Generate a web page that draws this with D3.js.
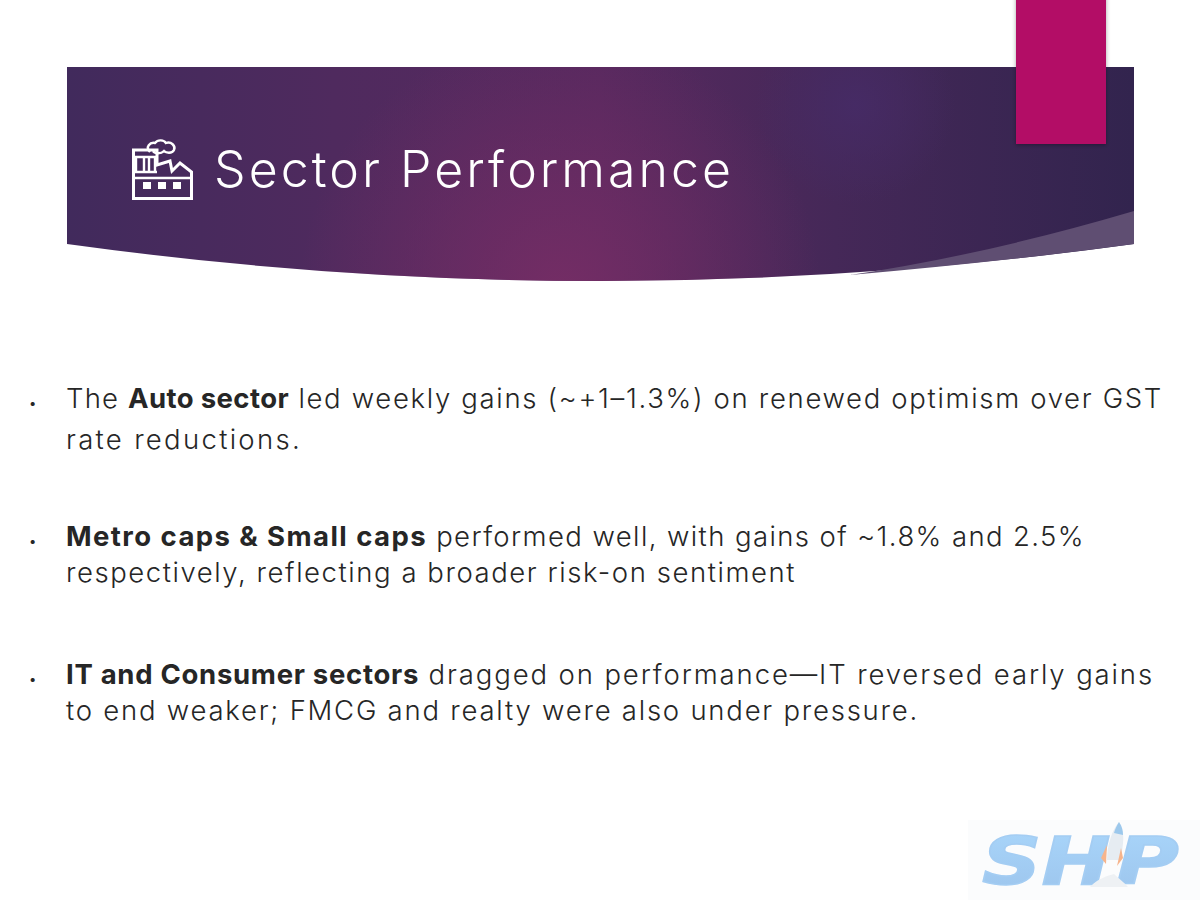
<!DOCTYPE html>
<html><head><meta charset="utf-8">
<script src="https://cdn.jsdelivr.net/npm/d3@7"></script>
<style>html,body{margin:0;padding:0;background:#fff;overflow:hidden}svg{display:block}</style>
</head><body><div id="c"></div>
<script>
const titleText = "Sector Performance";
const logoLeft = "SH", logoRight = "P";
const bullet1 = [[["The ",0],["Auto sector",1],[" led weekly gains (~+1–1.3%) on renewed optimism over GST",0]],[["rate reductions.",0]]];
const bullet2 = [[["Metro caps & Small caps",1],[" performed well, with gains of ~1.8% and 2.5%",0]],[["respectively, reflecting a broader risk-on sentiment",0]]];
const bullet3 = [[["IT and Consumer sectors",1],[" dragged on performance—IT reversed early gains",0]],[["to end weaker; FMCG and realty were also under pressure.",0]]];
const bullets = [bullet1, bullet2, bullet3];

const svg = d3.select("#c").append("svg").attr("width",1200).attr("height",900);
const defs = svg.append("defs");
const lin = defs.append("linearGradient").attr("id","base");
[[0,"#412a5c"],[.25,"#4f2a5e"],[.5,"#57295f"],[.72,"#452858"],[1,"#32244e"]].forEach(s=>lin.append("stop").attr("offset",s[0]).attr("stop-color",s[1]));
const r1 = defs.append("radialGradient").attr("id","glowA").attr("gradientUnits","userSpaceOnUse").attr("cx",560).attr("cy",290).attr("r",260);
r1.append("stop").attr("offset",0).attr("stop-color","#752d65").attr("stop-opacity",.95);
r1.append("stop").attr("offset",1).attr("stop-color","#752d65").attr("stop-opacity",0);
const r2 = defs.append("radialGradient").attr("id","glowB").attr("gradientUnits","userSpaceOnUse").attr("cx",855).attr("cy",105).attr("r",100);
r2.append("stop").attr("offset",0).attr("stop-color","#462b66").attr("stop-opacity",.9);
r2.append("stop").attr("offset",1).attr("stop-color","#462b66").attr("stop-opacity",0);
const sh = defs.append("filter").attr("id","sh").attr("x","-10%").attr("y","-10%").attr("width","120%").attr("height","120%");
sh.append("feDropShadow").attr("dx",0).attr("dy",1).attr("stdDeviation",2).attr("flood-color","#000").attr("flood-opacity",.35);
const lg = defs.append("linearGradient").attr("id","logoFill").attr("x1",0).attr("x2",0).attr("y1",0).attr("y2",1);
lg.append("stop").attr("offset",0).attr("stop-color","#a9d6fb");
lg.append("stop").attr("offset",1).attr("stop-color","#9cc4ec");

const bannerPath = "M67,67 H1134 V244 Q600,318 67,244 Z";
["url(#base)","url(#glowA)","url(#glowB)"].forEach(f=>svg.append("path").attr("d",bannerPath).attr("fill",f));
svg.append("path").attr("d","M1134,211 Q985,255 850,275 Q1000,262 1134,244 Z").attr("fill","#5f4e72");
svg.append("rect").attr("x",1016).attr("y",-10).attr("width",90).attr("height",154).attr("fill","#b31166").attr("filter","url(#sh)");

// factory icon
const icon = svg.append("g").attr("fill","none").attr("stroke","#fff").attr("stroke-width",3);
icon.append("path").attr("d","M133.500,150 H157 V165 L170,161 L172,171 L180,163 L191.500,172 V198.500 H133.500 Z");
icon.append("path").attr("stroke-width",2.4).attr("d","M133,157 H157 M133,172 H157 M133,178 H192 M136,158 V171 M144,158 V171 M149,158 V171 M155,158 V171");
icon.append("path").attr("stroke-width",2.4).attr("d","M150,152 C145,147 150,142 155,143 C158,139 164,140 166,143 C171,141 176,146 174,150 C172,154 166,153 164,151 C161,154 155,154 153,151");
icon.selectAll("rect.w").data([143,158,173]).join("rect").attr("x",d=>d).attr("y",182).attr("width",8).attr("height",7).attr("fill","#fff").attr("stroke","none");

const title = svg.append("text").attr("x",214).attr("y",187).attr("fill","#fff").attr("font-family","Inter").attr("font-weight",300).attr("font-size",50).text(titleText);
title.attr("letter-spacing",(731-214-title.node().getComputedTextLength())/(titleText.length-1));

// body: each run is fitted to the x where it ends in the slide
const baselines = [[408,449],[546,582],[684,720]];
const runEnds = [[[128,289,1163],[302]],[[427,1085],[796]],[[419,1154],[919]]];
const body = svg.append("g").attr("font-family","Inter").attr("font-size",27.500).attr("fill","#262626");
bullets.forEach((b,i)=>{
  body.append("text").attr("x",29).attr("y",baselines[i][0]).attr("font-size",13).text("•");
  b.forEach((line,j)=>{
    const t = body.append("text").attr("x",66).attr("y",baselines[i][j]).style("white-space","pre");
    const spans = t.selectAll("tspan").data(line).join("tspan").attr("font-weight",d=>d[1]?700:300).text(d=>d[0]);
    let start = 66;
    spans.each(function(d,k){
      const end = runEnds[i][j][k];
      const len = this.getComputedTextLength();
      d3.select(this).attr("letter-spacing",(end-start-len)/d[0].length);
      start = end;
    });
  });
});

// logo
svg.append("rect").attr("x",968).attr("y",820).attr("width",232).attr("height",80).attr("fill","#fbfcfd");
const logo = svg.append("g").attr("font-family","DejaVu Sans").attr("font-weight",700).attr("font-style","italic").attr("fill","url(#logoFill)").attr("stroke","#a4cdf3").attr("stroke-width",1.500);
logo.append("text").attr("transform","translate(982,884) scale(1.25,1)").attr("font-size",66).text(logoLeft);
logo.append("text").attr("transform","translate(1116,884) scale(1.3,1)").attr("font-size",66).text(logoRight);
svg.append("path").attr("d","M1119,822 C1125,830 1124,845 1120,860 L1107,860 C1107,845 1112,830 1119,822 Z").attr("fill","#e6ecf2");
svg.append("path").attr("d","M1119,822 C1122,826 1123,831 1123,835 L1114,833 C1115,829 1117,825 1119,822 Z").attr("fill","#9cc8ec");
svg.append("path").attr("d","M1107,845 L1101,858 L1106,864 Z M1121,848 L1117,866 L1123,858 Z").attr("fill","#f6b48c");
svg.append("path").attr("d","M1090,887 C1098,878 1108,876 1114,874 C1118,878 1124,882 1128,887 Z").attr("fill","#eef1f4");
</script></body></html>
